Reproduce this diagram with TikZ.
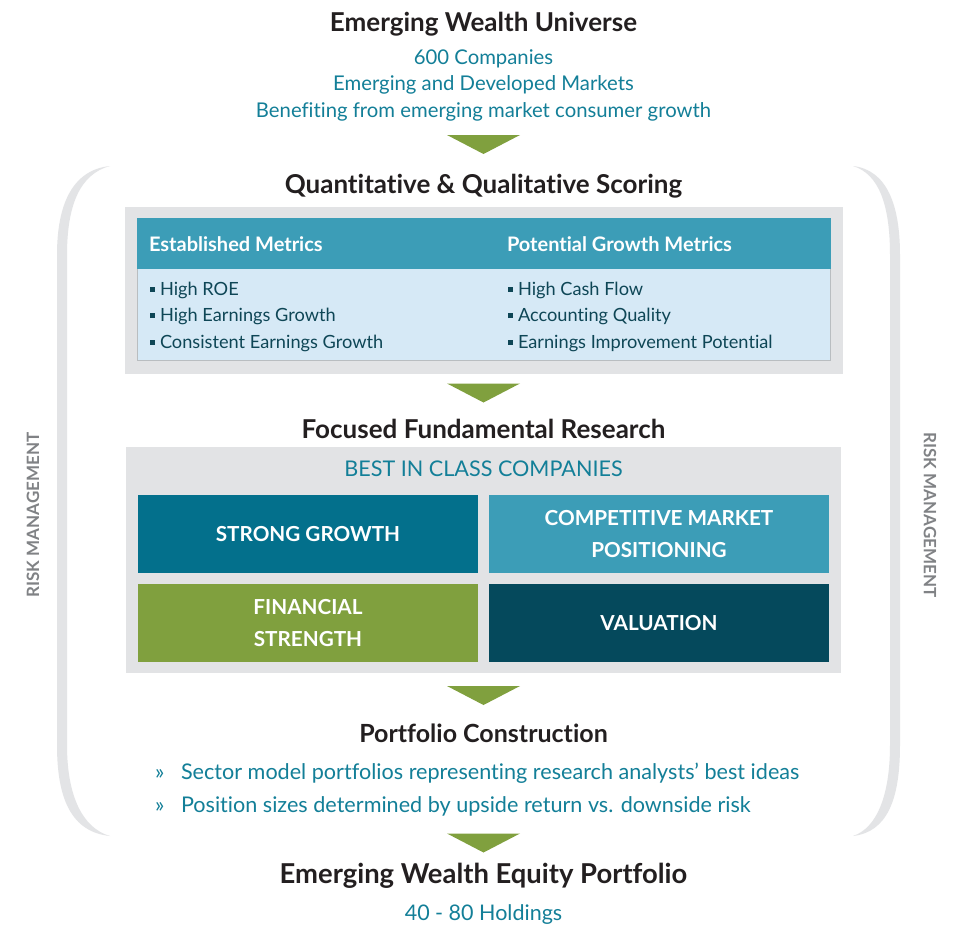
\documentclass[tikz,border=0pt]{standalone}
\usepackage{fontspec}
\setmainfont{Lato}[Ligatures={NoCommon}]
\definecolor{titleblack}{HTML}{231F20}
\definecolor{tealtext}{HTML}{137F98}
\definecolor{darktext}{HTML}{0E4656}
\definecolor{headteal}{HTML}{3C9DB7}
\definecolor{bodyblue}{HTML}{D6E9F6}
\definecolor{boxgray}{HTML}{E2E3E5}
\definecolor{bordergray}{HTML}{B9BDC0}
\definecolor{leafgreen}{HTML}{80A03E}
\definecolor{deepteal}{HTML}{03708C}
\definecolor{darkpetrol}{HTML}{05495C}
\definecolor{riskgray}{HTML}{808285}
\definecolor{bracketgray}{HTML}{E3E4E6}
\newcommand{\sqb}{\raisebox{3.3pt}{\rule{5pt}{5pt}}\hspace{5pt}}
\newcommand{\downarr}[2]{\fill[leafgreen] (#1-36.5,#2) -- (#1+36.5,#2) -- (#1,#2+19) -- cycle;}
\begin{document}
\begin{tikzpicture}[x=1pt,y=-1pt,
  every node/.style={inner sep=0pt,outer sep=0pt},
  ttl/.style={font=\fontsize{26}{26}\selectfont\bfseries, text=titleblack, anchor=base},
  sub/.style={font=\fontsize{20.3}{20.3}\selectfont, text=tealtext, anchor=base},
  head/.style={font=\fontsize{20}{20}\selectfont\bfseries, text=white, anchor=base west},
  bul/.style={font=\fontsize{18.2}{18.2}\selectfont, text=darktext, anchor=base west},
  tile/.style={minimum width=340pt, minimum height=78pt, font=\fontsize{20.7}{32}\selectfont\bfseries, text=white, align=center},
  risk/.style={font=\fontsize{17}{17}\selectfont\bfseries, text=riskgray},
  pbul/.style={font=\fontsize{21.6}{21.6}\selectfont, text=tealtext, anchor=base west}
]
\useasboundingbox (0,0) rectangle (954,926);
\fill[white] (0,0) rectangle (954,926);

% brackets
\fill[bracketgray] (110,166) .. controls (72,170) and (57,205) .. (57,255) -- (57,745) .. controls (57,800) and (72,832) .. (110,836) .. controls (82,828) and (67,795) .. (67,745) -- (67,255) .. controls (67,205) and (80,174) .. (110,166) -- cycle;
\fill[bracketgray] (853,166) .. controls (887,170) and (900,205) .. (900,255) -- (900,745) .. controls (900,800) and (887,832) .. (853,836) .. controls (877,828) and (890,795) .. (890,745) -- (890,255) .. controls (890,205) and (879,174) .. (853,166) -- cycle;
\node[risk, rotate=90] (riskL) at (33,515) {RISK MANAGEMENT};
\node[risk, rotate=-90] (riskR) at (930,515) {RISK MANAGEMENT};

% top
\node[ttl] (t1) at (483.5,31) {Emerging Wealth Universe};
\node[sub] (s1) at (483.5,64) {600 Companies};
\node[sub] (s2) at (483.5,90.5) {Emerging and Developed Markets};
\node[sub] (s3) at (483.5,117) {Benefiting from emerging market consumer growth};
\downarr{483.5}{135}

% scoring
\node[ttl] (t2) at (483.5,193) {Quantitative \& Qualitative Scoring};
\fill[boxgray] (125,206.5) rectangle (842.5,373.5);
\filldraw[fill=bodyblue, draw=bordergray, line width=1pt] (137.5,218.5) rectangle (830,360);
\fill[headteal] (137,218) rectangle (830.5,268.5);
\node[head] (h1) at (149,251.5) {Established Metrics};
\node[head] (h2) at (507,251.5) {Potential Growth Metrics};
\node[bul] (b1) at (150,295) {\sqb High ROE};
\node[bul] (b2) at (150,321.5) {\sqb High Earnings Growth};
\node[bul] (b3) at (150,348) {\sqb Consistent Earnings Growth};
\node[bul] (b4) at (508,295) {\sqb High Cash Flow};
\node[bul] (b5) at (508,321.5) {\sqb Accounting Quality};
\node[bul] (b6) at (508,348) {\sqb Earnings Improvement Potential};
\downarr{483.5}{383.5}

% research
\node[ttl] (t3) at (483.5,438) {Focused Fundamental Research};
\fill[boxgray] (126,446.5) rectangle (841,672.5);
\node[sub, font=\fontsize{21.6}{21.6}\selectfont] (best) at (483.5,476.5) {BEST IN CLASS COMPANIES};
\node[tile, fill=deepteal] (sg) at (308,534) {STRONG GROWTH};
\node[tile, fill=headteal] (cm) at (659,534) {COMPETITIVE MARKET\\POSITIONING};
\node[tile, fill=leafgreen] (fs) at (308,623) {FINANCIAL\\STRENGTH};
\node[tile, fill=darkpetrol] (va) at (659,623) {VALUATION};
\downarr{483.5}{686}

% portfolio construction
\node[ttl, font=\fontsize{25}{25}\selectfont\bfseries] (t4) at (483.5,742) {Portfolio Construction};
\node[pbul] (pb1) at (155,779) {»};
\node[pbul] (pt1) at (181,779) {Sector model portfolios representing research analysts’ best ideas};
\node[pbul] (pb2) at (155,812) {»};
\node[pbul] (pt2) at (181,812) {Position sizes determined by upside return vs. downside risk};
\downarr{483.5}{833.5}

% final
\node[ttl, font=\fontsize{27.4}{27.4}\selectfont\bfseries] (t5) at (483.5,883) {Emerging Wealth Equity Portfolio};
\node[sub, font=\fontsize{21.5}{21.5}\selectfont] (s5) at (483.5,920) {40 - 80 Holdings};
\end{tikzpicture}
\end{document}
